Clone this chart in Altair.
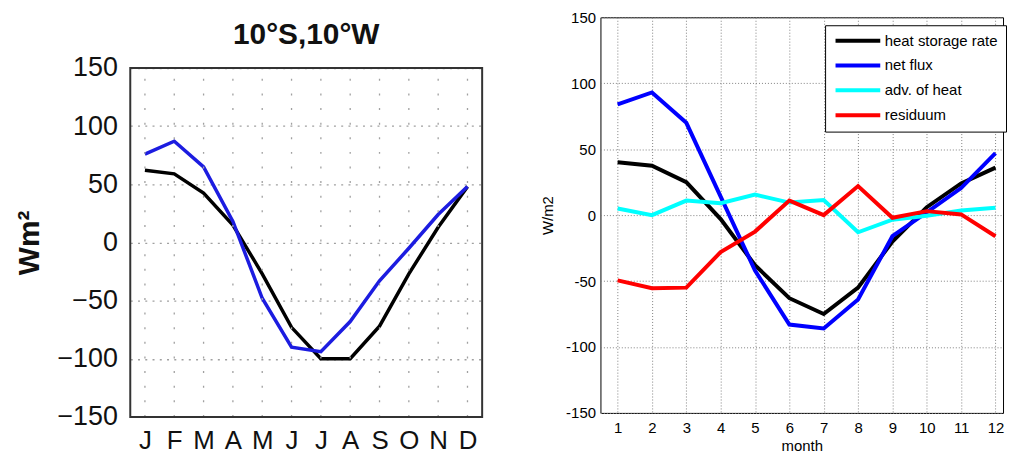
import json
import altair as alt
import pandas as pd

# ---------------- data ----------------
months = list(range(1, 13))
month_letters = ["J", "F", "M", "A", "M", "J", "J", "A", "S", "O", "N", "D"]

# left panel (10°S,10°W)
left_storage = [62, 59, 42.5, 15, -27, -73, -100, -100, -72, -27, 13, 48]
left_netflux = [76, 87, 65, 18, -48, -90, -94, -68, -33, -5, 24, 48]

# right panel
right_names = ["heat storage rate", "net flux", "adv. of heat", "residuum"]
right_colors = ["#000000", "#0000FF", "#00FFFF", "#FF0000"]
storage_rate = [40, 37.5, 25, -3, -38, -63, -75, -55, -20, 6, 24, 36]
net_flux = [84, 93, 70, 14, -42, -83, -86, -64, -16, 2, 20.5, 47]
advection = [5, 0, 11, 9, 15.5, 9.5, 11.5, -13, -3.5, -0.5, 3.5, 5.5]
residuum = [-49.5, -55.5, -55, -28, -12.5, 11, 0, 22, -2, 3, 0.5, -16]

y_ticks = [-150, -100, -50, 0, 50, 100, 150]
x_domain_left = [0.5, 12.5]
x_domain_right = [0.5, 12.22]
y_domain = [-150, 150]

FONT = "Liberation Sans"
LEFT_H = 402          # group height of left panel (plot + room for title)
LEFT_TOP = 51         # plot top inside left group

# ---------------- left panel ----------------
left_df = pd.DataFrame({
    "month": months * 2,
    "value": left_storage + left_netflux,
    "series": ["storage"] * 12 + ["flux"] * 12,
})
months_df = pd.DataFrame({"month": months})
frame_df = pd.DataFrame({"x0": [x_domain_left[0]], "x1": [x_domain_left[1]],
                         "y0": [y_domain[0]], "y1": [y_domain[1]]})

letters_js = json.dumps(month_letters)

x_left = alt.X(
    "month:Q",
    scale=alt.Scale(domain=x_domain_left, nice=False, zero=False),
    axis=alt.Axis(
        orient="bottom",
        values=months, labelExpr=f"{letters_js}[datum.value - 1]", title=None,
        grid=False, ticks=False, domain=False, labelFont=FONT, labelFontSize=26,
        labelColor="#111", labelPadding=11, labelFlush=False, labelOverlap=False,
        labelBound=False,
    ),
)
y_left = alt.Y(
    "value:Q",
    scale=alt.Scale(domain=y_domain, nice=False, zero=False, range=[LEFT_H, LEFT_TOP]),
    axis=alt.Axis(
        orient="left",
        values=y_ticks, labelExpr="replace(toString(datum.value), '-', '\u2212')",
        title="Wm\u00b2", titleFont=FONT, titleFontSize=30, titleFontWeight="bold",
        titleColor="#111", titlePadding=12,
        grid=True, gridDash=[2, 5.3], gridColor="#a0a0a0", gridWidth=1.3,
        ticks=False, domain=False, labelFont=FONT, labelFontSize=27,
        labelColor="#111", labelPadding=13, labelFlush=False, labelOverlap=False,
    ),
)

left_lines = alt.Chart(left_df).mark_line(strokeWidth=3.5).encode(
    x=x_left,
    y=y_left,
    color=alt.Color(
        "series:N",
        scale=alt.Scale(domain=["storage", "flux"], range=["#000000", "#1c1ce0"]),
        legend=None,
    ),
)

left_vgrid = alt.Chart(months_df).mark_rule(
    strokeDash=[2, 12.7], color="#a0a0a0", strokeWidth=1.3
).encode(
    x=alt.X("month:Q", axis=None),
    y=alt.YDatum(y_domain[0], axis=None),
    y2=alt.Y2Datum(y_domain[1]),
)

left_frame = alt.Chart(frame_df).mark_rect(
    filled=False, color="#333333", strokeWidth=2, strokeOpacity=1
).encode(
    x=alt.X("x0:Q", axis=None), x2="x1:Q",
    y=alt.Y("y0:Q", axis=None), y2="y1:Q",
)

left = alt.layer(left_lines, left_vgrid, left_frame).resolve_axis(
    x="independent", y="independent"
).properties(
    width=354, height=LEFT_H,
    title=alt.TitleParams(
        "10\u00b0S,10\u00b0W", font=FONT, fontSize=30, fontWeight="bold",
        color="#111", offset=-33, anchor="middle",
    ),
    view=alt.ViewBackground(stroke=None),
)

# ---------------- right panel ----------------
right_df = pd.DataFrame({
    "month": months * 4,
    "value": storage_rate + net_flux + advection + residuum,
    "series": sum([[n] * 12 for n in right_names], []),
    "order": sum([[i] * 12 for i in range(4)], []),
})

right = alt.Chart(right_df).mark_line(strokeWidth=4).encode(
    x=alt.X(
        "month:Q",
        scale=alt.Scale(domain=x_domain_right, nice=False, zero=False),
        axis=alt.Axis(
            values=months, title="month", titleFont=FONT, titleFontSize=15,
            titleFontWeight="normal", titleColor="black", titlePadding=3,
            grid=True, gridDash=[1, 2], gridColor="#808080",
            ticks=False, domain=False, labelFont=FONT, labelFontSize=15,
            labelColor="black", labelPadding=8, labelFlush=False,
        ),
    ),
    y=alt.Y(
        "value:Q",
        scale=alt.Scale(domain=y_domain, nice=False, zero=False),
        axis=alt.Axis(
            values=y_ticks, labelExpr="toString(datum.value)",
            title="W/m2", titleFont=FONT, titleFontSize=15, titleFontWeight="normal",
            titleColor="black", titlePadding=10,
            grid=True, gridDash=[1, 2], gridColor="#808080",
            ticks=False, domain=False, labelFont=FONT, labelFontSize=15,
            labelColor="black", labelPadding=5, labelFlush=False,
        ),
    ),
    color=alt.Color(
        "series:N",
        sort=right_names,
        scale=alt.Scale(domain=right_names, range=right_colors),
        legend=alt.Legend(
            title=None, orient="none", legendX=226, legendY=8,
            direction="vertical",
            strokeColor="black", fillColor="white", padding=8, cornerRadius=0,
            symbolType="M-1,0H8", symbolStrokeWidth=4, symbolSize=100,
            labelFont=FONT, labelFontSize=15, labelColor="black", labelOffset=37,
            labelLimit=300, rowPadding=8,
        ),
    ),
    order=alt.Order("order:Q"),
).properties(
    width=405, height=398,
    view=alt.ViewBackground(stroke="black", strokeWidth=1),
)

chart = alt.hconcat(left, right, spacing=57).resolve_scale(
    color="independent"
).properties(
    padding={"left": 7, "top": 0, "right": 0, "bottom": 0},
).configure(background="white").configure_axis(labelOverlap=False)

chart.save("out.html", embed_options={"renderer": "svg", "actions": False})
